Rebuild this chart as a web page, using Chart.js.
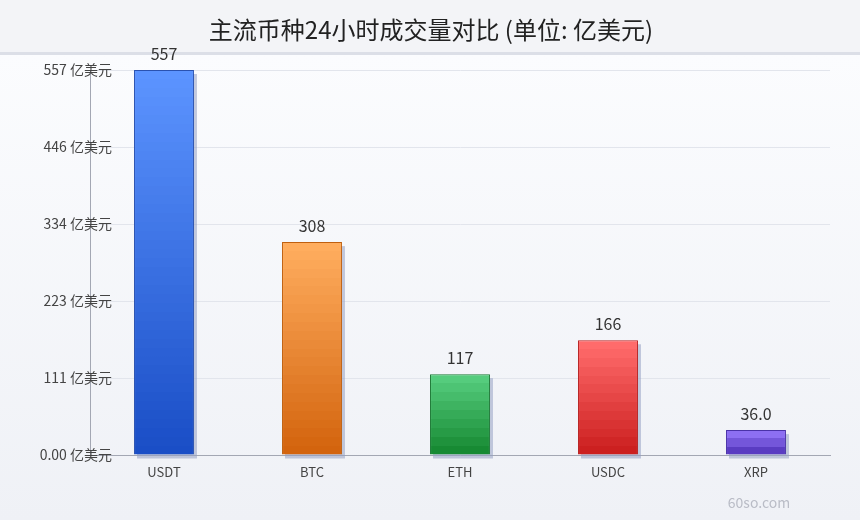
<!DOCTYPE html>
<html>
<head>
<meta charset="utf-8">
<script src="https://cdn.jsdelivr.net/npm/chart.js@4"></script>
<style>
  html, body { margin: 0; padding: 0; background: #f3f4f7; }
  #wrap { width: 860px; height: 520px; }
</style>
</head>
<body>
<div id="wrap"><canvas id="chart" width="860" height="520"></canvas></div>
<script>
const chartTitle = '主流币种24小时成交量对比 (单位: 亿美元)'
const categories = ['USDT', 'BTC', 'ETH', 'USDC', 'XRP']
const volumes = [557, 308, 117, 166, 36.0]
const yMax = 557
const unit = '亿美元'

// top / bottom / border colour per bar
const topColors = ['#5c94ff', '#ffad5e', '#55cc7d', '#ff6b6b', '#8d6ff2']
const bottomColors = ['#1a4ec6', '#d3640e', '#178a33', '#cc2020', '#5a3cc2']
const borderColors = ['#2a52b0', '#c0600f', '#1d7a36', '#b82222', '#4a32a8']

const FONT = '"Noto Sans CJK SC", "Noto Sans", sans-serif'

function hexToRgb(h) {
  const n = parseInt(h.slice(1), 16)
  return [(n >> 16) & 255, (n >> 8) & 255, n & 255]
}

function fmt(v) {
  return Number(v).toPrecision(3)
}

function barGradient(context) {
  const chart = context.chart
  const i = context.dataIndex
  const y = chart.scales.y
  if (!chart.chartArea || !y || context.raw === undefined) return topColors[i]
  const top = y.getPixelForValue(context.raw)
  const bottom = y.getPixelForValue(0)
  const g = chart.ctx.createLinearGradient(0, top, 0, bottom)
  const a = hexToRgb(topColors[i])
  const b = hexToRgb(bottomColors[i])
  // stepped bands like the original
  const steps = Math.max(3, Math.round((bottom - top) / 9))
  for (let s = 0; s < steps; s++) {
    const t = steps === 1 ? 0 : s / (steps - 1)
    const c = a.map((v, k) => Math.round(v + (b[k] - v) * t))
    const col = `rgb(${c[0]},${c[1]},${c[2]})`
    g.addColorStop(s / steps, col)
    g.addColorStop(Math.min(1, (s + 1) / steps - 0.0001), col)
  }
  return g
}

const backdrop = {
  id: 'backdrop',
  beforeDraw(chart) {
    const ctx = chart.ctx
    ctx.save()
    ctx.fillStyle = '#f3f4f7'
    ctx.fillRect(0, 0, chart.width, 53)
    const g = ctx.createLinearGradient(0, 55, 0, chart.height)
    g.addColorStop(0, '#fbfcfe')
    g.addColorStop(1, '#eff1f6')
    ctx.fillStyle = g
    ctx.fillRect(0, 53, chart.width, chart.height - 53)
    ctx.fillStyle = '#dcdfe7'
    ctx.fillRect(0, 52, chart.width, 3)
    // title
    ctx.font = `24px ${FONT}`
    ctx.fillStyle = '#222'
    ctx.textAlign = 'center'
    ctx.textBaseline = 'middle'
    ctx.fillText(chartTitle, 431, 30)
    ctx.restore()
  }
}

const barShadows = {
  id: 'barShadows',
  beforeDatasetsDraw(chart) {
    const ctx = chart.ctx
    ctx.save()
    ctx.fillStyle = 'rgba(150, 160, 195, 0.55)'
    chart.getDatasetMeta(0).data.forEach(bar => {
      const w = bar.width
      ctx.fillRect(bar.x - w / 2 + 3, bar.y + 4, w, bar.base - bar.y)
    })
    ctx.restore()
  }
}

const labelsPlugin = {
  id: 'labelsPlugin',
  afterDatasetsDraw(chart) {
    const ctx = chart.ctx
    const y = chart.scales.y
    ctx.save()
    // y tick labels, overlapping the axis line as in the original
    ctx.font = `14px ${FONT}`
    ctx.fillStyle = '#444'
    ctx.textAlign = 'right'
    ctx.textBaseline = 'middle'
    y.ticks.forEach(t => {
      ctx.fillText(fmt(t.value) + ' ' + unit, 112, y.getPixelForValue(t.value))
    })
    // value labels
    ctx.font = `16px ${FONT}`
    ctx.fillStyle = '#333'
    ctx.textAlign = 'center'
    ctx.textBaseline = 'bottom'
    chart.getDatasetMeta(0).data.forEach((bar, i) => {
      ctx.fillText(fmt(volumes[i]), bar.x, bar.y - 8)
    })
    // watermark
    ctx.font = `14px ${FONT}`
    ctx.fillStyle = '#b9bcc6'
    ctx.textBaseline = 'middle'
    ctx.fillText('60so.com', 759, 503)
    ctx.restore()
  }
}

new Chart(document.getElementById('chart'), {
  type: 'bar',
  data: {
    labels: categories,
    datasets: [{
      data: volumes,
      backgroundColor: barGradient,
      borderColor: borderColors,
      borderWidth: 1,
      barPercentage: 0.405,
      categoryPercentage: 1
    }]
  },
  options: {
    responsive: false,
    animation: false,
    layout: { padding: { left: 0, right: 30, top: 70, bottom: 0 } },
    plugins: {
      legend: { display: false },
      tooltip: { enabled: false },
      title: { display: false }
    },
    scales: {
      x: {
        grid: { display: false, drawTicks: false },
        border: { display: true, color: '#a3a7b3', width: 1 },
        ticks: {
          color: '#444',
          font: { family: FONT, size: 13 },
          padding: 9
        },
        afterFit(scale) { scale.height = 65 }
      },
      y: {
        min: 0,
        max: yMax,
        grid: { color: '#e2e5ec', drawTicks: false },
        border: { display: true, color: '#a3a7b3', width: 1 },
        ticks: {
          display: false,
          stepSize: yMax / 5
        },
        afterFit(scale) { scale.width = 90 }
      }
    }
  },
  plugins: [backdrop, barShadows, labelsPlugin]
})
</script>
</body>
</html>
